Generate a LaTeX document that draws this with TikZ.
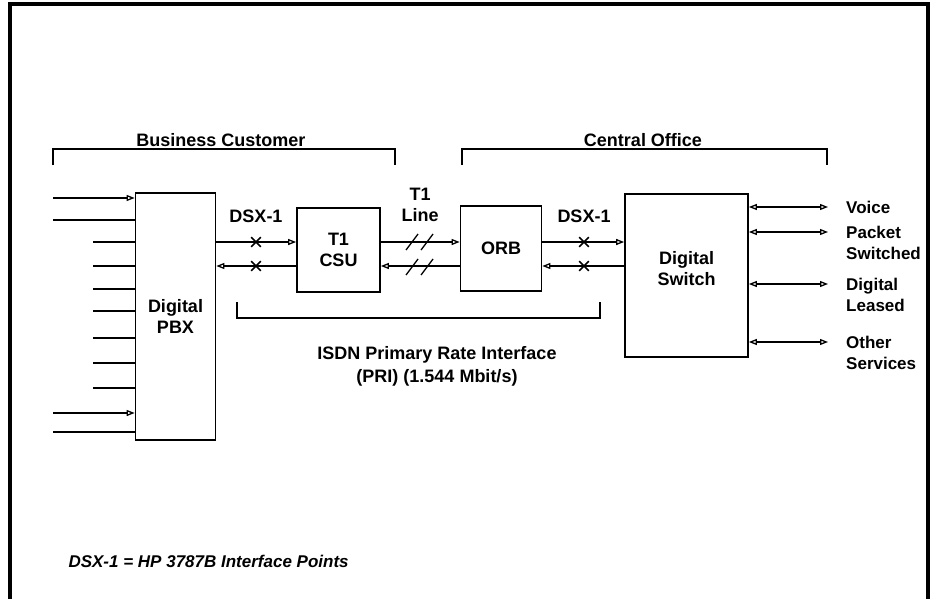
\documentclass[tikz,border=0pt]{standalone}
\usepackage{fontspec}
\setmainfont{Liberation Sans}
\usetikzlibrary{arrows.meta,positioning,shapes.misc}
\begin{document}
\begin{tikzpicture}[x=1pt, y=-1pt, every node/.style={font=\bfseries\fontsize{18}{21}\selectfont}, box/.style={draw, line width=1.7pt, inner sep=0pt, align=center}, wire/.style={line width=1.3pt}, tip/.style={wire, -{Triangle[open, length=8pt, width=6pt]}}, both/.style={wire, {Triangle[open, length=8pt, width=6pt]}-{Triangle[open, length=8pt, width=6pt]}}, xmark/.style={draw, cross out, line width=1.7pt, minimum size=8pt, inner sep=0pt}, brace/.style={line width=1.4pt}]
\useasboundingbox (0,0) rectangle (934,599);
\draw[line width=3.5pt] (10,599) -- (10,4) -- (928,4) -- (928,599);
\node[box, minimum width=80pt, minimum height=247pt] (pbx) at (175.5,316.5) {Digital\\PBX};
\node[box, minimum width=83pt, minimum height=84pt] (csu) at (338.5,250) {T1\\CSU};
\node[box, minimum width=81pt, minimum height=85pt] (orb) at (501,248.5) {ORB};
\node[box, minimum width=123pt, minimum height=163pt, label={[name=swlbl, align=center, yshift=7pt]center:Digital\\Switch}] (sw) at (686.5,275.5) {};
\coordinate (up) at (0,242); \coordinate (dn) at (0,266);
\draw[tip] (pbx.east |- up) -- (csu.west |- up); \draw[tip] (csu.west |- dn) -- (pbx.east |- dn);
\draw[tip] (csu.east |- up) -- (orb.west |- up); \draw[tip] (orb.west |- dn) -- (csu.east |- dn);
\draw[tip] (orb.east |- up) -- (sw.west |- up); \draw[tip] (sw.west |- dn) -- (orb.east |- dn);
\foreach \x in {256,584} {\node[xmark] (xa\x) at (\x,242) {}; \node[xmark] (xb\x) at (\x,266) {};}
\foreach \x in {412,427} {\draw[wire] (\x-6,250) -- (\x+6,234); \draw[wire] (\x-6,275) -- (\x+6,259);}
\node (dsxa) at (256,216) {DSX-1};
\node (dsxb) at (584,216) {DSX-1};
\node[align=center] (t1) at (420,205) {T1\\Line};
\foreach \y/\sx/\st in {198/53/tip, 220/53/wire, 242/93/wire, 266/93/wire, 289/93/wire, 311/93/wire, 338/93/wire, 363/93/wire, 388/93/wire, 413/53/tip, 432/53/wire} {
  \coordinate (in\y) at (\sx,\y);
  \draw[\st] (in\y) -- (pbx.west |- in\y);
}
\foreach \y/\txt in {207/Voice, 232/{Packet\\Switched}, 284/{Digital\\Leased}, 342/{Other\\Services}} {
  \coordinate (out\y) at (828,\y);
  \draw[both] (sw.east |- out\y) -- (out\y);
  \node[anchor=north west, align=left, inner sep=0pt, font=\bfseries\fontsize{17}{21}\selectfont] (lbl\y) at (846,\y-6.5) {\txt};
}
\draw[brace] (53,165) -- (53,149) -- (395,149) -- (395,165);
\draw[brace] (462,165) -- (462,149) -- (827,149) -- (827,165);
\node (bc) at (221,140) {Business Customer};
\node (co) at (643,140) {Central Office};
\draw[brace] (237,302) -- (237,318) -- (600,318) -- (600,302);
\node[align=center, font=\bfseries\fontsize{18}{23}\selectfont] (isdn) at (437,366.5) {ISDN Primary Rate Interface\\(PRI) (1.544 Mbit/s)};
\node[anchor=west, font=\bfseries\itshape\fontsize{17}{21}\selectfont] (note) at (65,561) {DSX-1 = HP 3787B Interface Points};
\end{tikzpicture}
\end{document}
